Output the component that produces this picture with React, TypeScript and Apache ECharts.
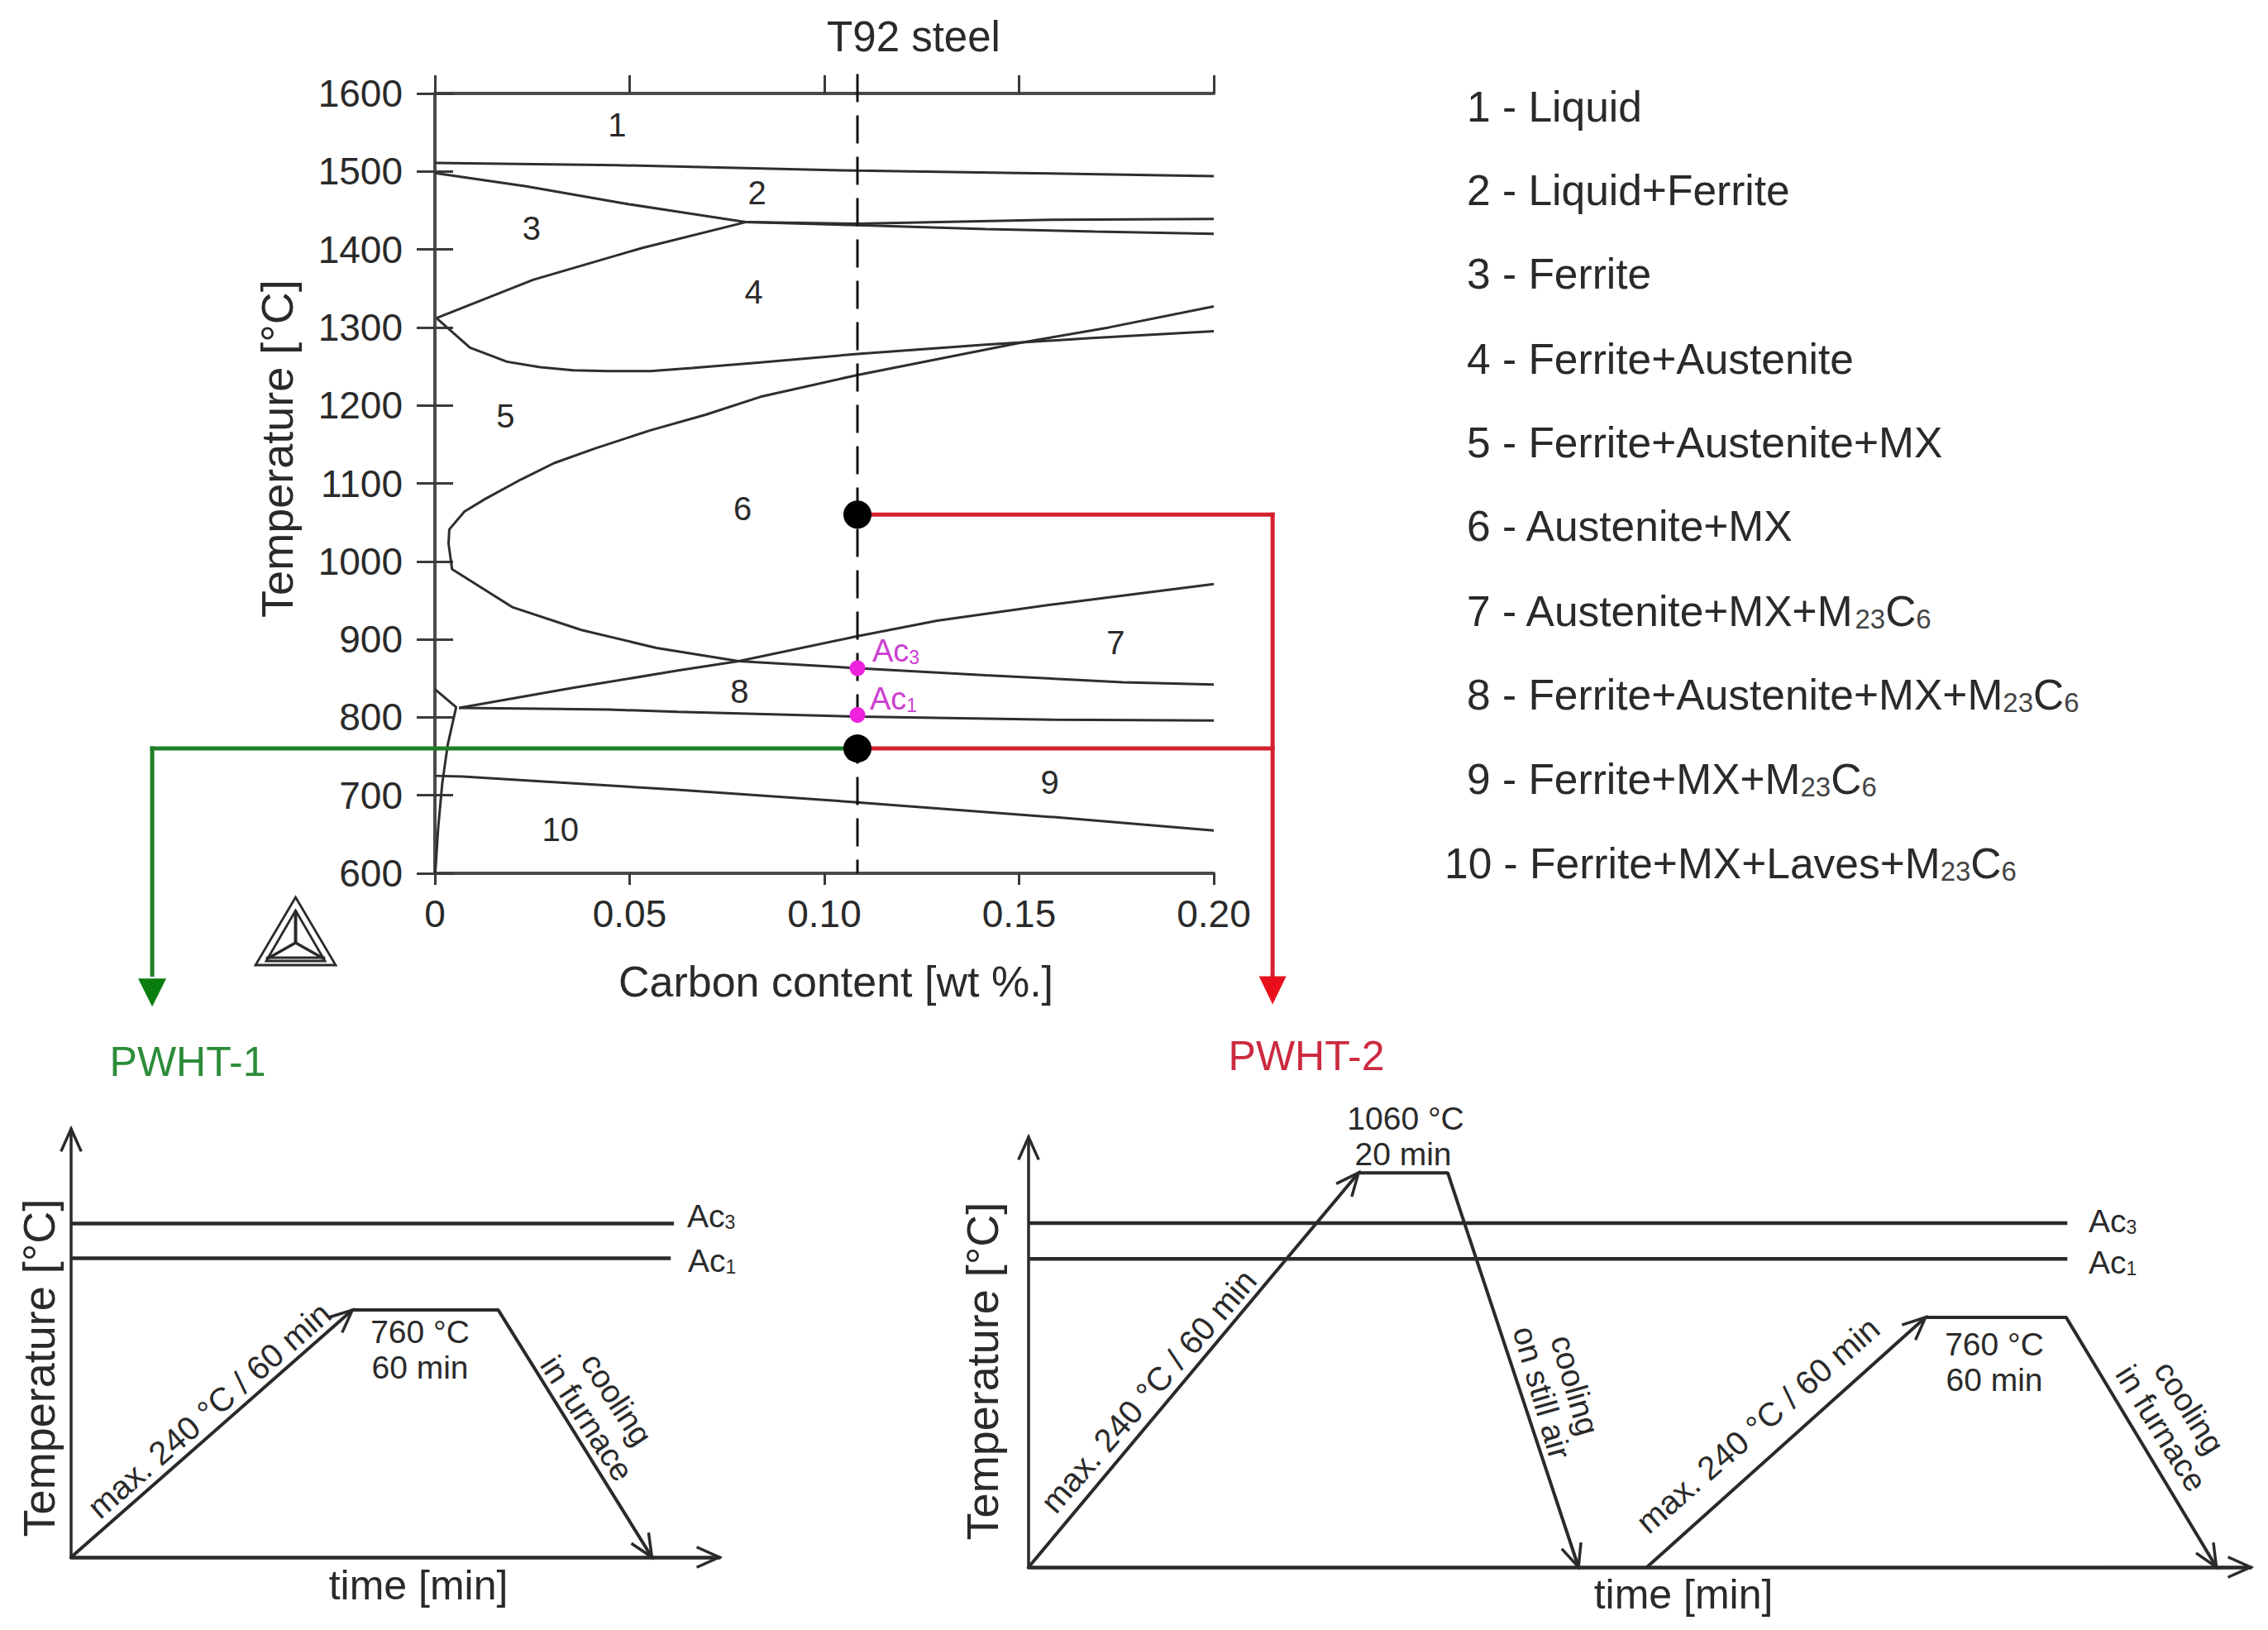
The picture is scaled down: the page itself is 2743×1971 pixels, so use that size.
import React, { useEffect, useRef } from "react";
import * as echarts from "echarts";

const FONT = '"Liberation Sans", Arial, sans-serif';
const INK = "#2a2a2a";

// --- main phase diagram: boundaries as [wt% C, °C]
const liquidus = [[0, 1511], [0.0468, 1508], [0.1085, 1501], [0.15, 1498], [0.2, 1494]];
const solidusLow = [[0, 1498], [0.0234, 1481], [0.0498, 1458], [0.0798, 1435]];
const ferriteLimit = [[0.0004, 1312], [0.0252, 1361], [0.0533, 1402], [0.0798, 1435]];
const peritecticUpper = [[0.0798, 1435], [0.1085, 1433], [0.159, 1438], [0.2, 1439]];
const peritecticLower = [[0.0798, 1435], [0.1085, 1431], [0.1414, 1426], [0.1695, 1423], [0.2, 1420]];
const mxSolvusUpper = [[0.0004, 1312], [0.009, 1274], [0.0185, 1256], [0.027, 1249], [0.0355, 1245], [0.0447, 1244], [0.0553, 1244], [0.066, 1248], [0.0836, 1255], [0.1085, 1266], [0.1414, 1278], [0.1678, 1286], [0.2, 1295]];
const austeniteNose = [[0.2, 1327], [0.1731, 1300], [0.15, 1280], [0.1085, 1239], [0.0836, 1211], [0.0695, 1188], [0.0553, 1168], [0.0412, 1145], [0.0306, 1126], [0.0221, 1105], [0.0129, 1080], [0.0076, 1064], [0.0037, 1041], [0.0035, 1023], [0.0044, 990], [0.02, 941], [0.0376, 912], [0.0569, 889], [0.078, 872], [0.1085, 863], [0.1414, 854], [0.1766, 845], [0.2, 842]];
const m23c6Solvus = [[0.0062, 812], [0.0357, 838], [0.0624, 860], [0.078, 872], [0.1085, 904], [0.129, 924], [0.159, 945], [0.2, 971]];
const eutectoid = [[0.0062, 812], [0.027, 811], [0.0447, 810], [0.0624, 807], [0.1085, 801], [0.159, 797], [0.2, 796]];
const ferriteSolvus = [[0, 836], [0.00545, 813], [0.0033, 765], [0.0019, 716], [0.00085, 659], [0.0001, 601]];
const lavesSolvus = [[0.0001, 725], [0.0072, 724], [0.027, 718], [0.0624, 707], [0.1085, 691], [0.159, 672], [0.2, 655]];
const boundaries = [liquidus, solidusLow, ferriteLimit, peritecticUpper, peritecticLower, mxSolvusUpper, austeniteNose, m23c6Solvus, eutectoid, ferriteSolvus, lavesSolvus];

const steelCarbon = 0.1085;
const pwht1Temp = 760;
const pwht2Temp = 1060;
const ac3 = 863;
const ac1 = 803;
const redX = 0.2151;
const greenX = -0.0726;
const arrowStart = 470;
const steelTop = 1625;
const steelBottom = 600;

// connector segments [x0, T0, x1, T1]
const steelLine = [[steelCarbon, steelTop, steelCarbon, steelBottom]];
const redSegments = [[steelCarbon, pwht2Temp, redX, pwht2Temp], [redX, pwht2Temp, redX, arrowStart], [steelCarbon, pwht1Temp, redX, pwht1Temp]];
const greenSegments = [[steelCarbon, pwht1Temp, greenX, pwht1Temp], [greenX, pwht1Temp, greenX, arrowStart]];
const redHead = [[redX, 450]];
const greenHead = [[greenX, 447]];

const regionNames = ["1", "2", "3", "4", "5", "6", "7", "8", "9", "10"];
const regionCarbon = [0.0468, 0.0827, 0.0248, 0.0819, 0.0181, 0.079, 0.1748, 0.0782, 0.1579, 0.0322];
const regionTemp = [1560, 1473, 1427, 1345, 1186, 1068, 896, 833, 717, 656];

const legendLabels = ["Liquid", "Liquid+Ferrite", "Ferrite", "Ferrite+Austenite", "Ferrite+Austenite+MX", "Austenite+MX", "Austenite+MX+M23C6", "Ferrite+Austenite+MX+M23C6", "Ferrite+MX+M23C6", "Ferrite+MX+Laves+M23C6"];

// --- schematic cycles (arbitrary 0-100 axes)
const cycle1 = [[0, 0], [43.4, 57.7], [65.9, 57.7], [89.6, 0]];
const cycle1Ac3 = [[0, 77.9], [93, 77.9]];
const cycle1Ac1 = [[0, 69.8], [92.5, 69.8]];
const cycle2a = [[0, 0], [27, 91.7], [34.3, 91.7], [45, 0]];
const cycle2b = [[50.6, 0], [73.4, 58.1], [84.9, 58.1], [97.2, 0]];
const cycle2Ac3 = [[0, 80], [85, 80]];
const cycle2Ac1 = [[0, 71.7], [85, 71.7]];

const chevrons1 = [[0, 0, 0, 100], [0, 0, 100, 0], [0, 0, 43.4, 57.7], [65.9, 57.7, 89.6, 0]];
const chevrons2 = [[0, 0, 0, 100], [0, 0, 100, 0], [0, 0, 27, 91.7], [34.3, 91.7, 45, 0], [50.6, 0, 73.4, 58.1], [84.9, 58.1, 97.2, 0]];

function richLegend(s: string) {
  return s.replace("M23C6", "M}{s|23}{t|C}{s|6}{t|");
}

function txt(text: string, x: number, y: number, size: number, extra: any = {}, rotationDeg = 0) {
  return {
    type: "text",
    x,
    y,
    rotation: (rotationDeg * Math.PI) / 180,
    silent: true,
    style: { text, fontFamily: FONT, fontSize: size, fill: INK, align: "center", verticalAlign: "middle", ...extra },
  };
}

function subText(main: string, sub: string, x: number, y: number, size: number, subSize: number, fill: string) {
  return {
    type: "text",
    x,
    y,
    silent: true,
    style: {
      text: `{a|${main}}{b|${sub}}`,
      align: "left",
      verticalAlign: "middle",
      rich: {
        a: { fontFamily: FONT, fontSize: size, fill, color: fill, lineHeight: size + 4, verticalAlign: "bottom" },
        b: { fontFamily: FONT, fontSize: subSize, fill, color: fill, lineHeight: size + 4, verticalAlign: "bottom" },
      },
    },
  };
}

function chevronSeries(data: number[][], xAxisIndex: number, yAxisIndex: number) {
  return {
    type: "custom",
    xAxisIndex,
    yAxisIndex,
    silent: true,
    encode: { x: [0, 2], y: [1, 3] },
    data,
    z: 6,
    renderItem: (_p: any, api: any) => {
      const a = api.coord([api.value(0), api.value(1)]);
      const b = api.coord([api.value(2), api.value(3)]);
      const ang = Math.atan2(b[1] - a[1], b[0] - a[0]);
      const L = 30;
      const w = 0.42;
      return {
        type: "polyline",
        shape: {
          points: [
            [b[0] - L * Math.cos(ang - w), b[1] - L * Math.sin(ang - w)],
            [b[0], b[1]],
            [b[0] - L * Math.cos(ang + w), b[1] - L * Math.sin(ang + w)],
          ],
        },
        style: { stroke: INK, fill: "none", lineWidth: 3.5 },
      };
    },
  };
}

// unclipped straight segments, placed through the axes
function segmentSeries(data: number[][], color: string, width: number, dash?: number[]) {
  return {
    type: "custom",
    xAxisIndex: 0,
    yAxisIndex: 0,
    silent: true,
    encode: { x: [0, 2], y: [1, 3] },
    data,
    z: 4,
    renderItem: (_p: any, api: any) => {
      const a = api.coord([api.value(0), api.value(1)]);
      const b = api.coord([api.value(2), api.value(3)]);
      return {
        type: "line",
        shape: { x1: a[0], y1: a[1], x2: b[0], y2: b[1] },
        style: { stroke: color, lineWidth: width, lineDash: dash, lineCap: dash ? "butt" : "square" },
      };
    },
  };
}

function thinLine(data: number[][], xAxisIndex: number, yAxisIndex: number, width: number) {
  return {
    type: "line",
    xAxisIndex,
    yAxisIndex,
    data,
    showSymbol: false,
    symbol: "none",
    silent: true,
    lineStyle: { color: INK, width },
    z: 3,
  };
}

function logo() {
  const ax = 357.5, ay = 1085, lx = 309, rx = 406, by = 1167, cx = 357.5, cy = 1140;
  const tri = [[ax, ay + 16], [lx + 13, by - 5], [rx - 13, by - 5]];
  const st = { stroke: "#2a2a2a", fill: "none", lineWidth: 2.8 };
  return {
    type: "group",
    silent: true,
    children: [
      { type: "polygon", shape: { points: [[ax, ay], [lx, by], [rx, by]] }, style: st },
      { type: "polygon", shape: { points: tri }, style: st },
      { type: "line", shape: { x1: ax, y1: ay + 16, x2: cx, y2: cy }, style: { ...st, lineWidth: 4 } },
      { type: "line", shape: { x1: 322, y1: 1160, x2: cx, y2: cy }, style: { ...st, lineWidth: 3.5 } },
      { type: "line", shape: { x1: 393, y1: 1160, x2: cx, y2: cy }, style: { ...st, lineWidth: 3.5 } },
      { type: "line", shape: { x1: 322, y1: 1158, x2: 393, y2: 1158 }, style: st },
    ],
  };
}

function buildOption() {
  const legendTexts = legendLabels.map((l, i) => {
    const ys = [127, 228, 329, 431.5, 532.5, 634, 736.5, 838, 939.5, 1041.5];
    const body = `${regionNames[i]} - ${richLegend(l)}`;
    return {
      type: "text",
      x: i === 9 ? 1747 : 1774,
      y: ys[i],
      silent: true,
      style: {
        text: `{t|${body}}`,
        align: "left",
        verticalAlign: "middle",
        rich: {
          t: { fontFamily: FONT, fontSize: 51.5, fill: INK, color: INK, lineHeight: 56, verticalAlign: "bottom" },
          s: { fontFamily: FONT, fontSize: 33, fill: "#444", color: "#444", lineHeight: 56, verticalAlign: "bottom" },
        },
      },
    };
  });

  const axisLine = { lineStyle: { color: "#4a4a4a", width: 4 } };
  const tickLong = { length: 22, lineStyle: { color: "#3a3a3a", width: 3 } };
  const schematicX = (gridIndex: number, gap: number, pad: number) => ({
    type: "value", gridIndex, min: 0, max: 100,
    splitLine: { show: false }, axisTick: { show: false }, axisLabel: { show: false },
    axisLine: { lineStyle: { color: INK, width: 4.5 }, onZero: false },
    name: "time [min]", nameLocation: "middle", nameGap: gap,
    nameTextStyle: { fontFamily: FONT, fontSize: 50, color: INK, padding: [0, 0, 0, pad] },
  });
  const schematicY = (gridIndex: number, gap: number, pad: number) => ({
    type: "value", gridIndex, min: 0, max: 100,
    splitLine: { show: false }, axisTick: { show: false }, axisLabel: { show: false },
    axisLine: { lineStyle: { color: INK, width: 3.5 }, onZero: false },
    name: "Temperature [°C]", nameLocation: "middle", nameGap: gap, nameRotate: 90,
    nameTextStyle: { fontFamily: FONT, fontSize: 54, color: INK, padding: [0, pad, 0, 0] },
  });

  return {
    animation: false,
    backgroundColor: "#fff",
    title: {
      text: "T92 steel", left: 1100, top: 14, textAlign: "center",
      textStyle: { fontFamily: FONT, fontSize: 51, fontWeight: "normal", color: INK },
    },
    grid: [
      { left: 526, top: 113, width: 942, height: 943 },
      { left: 86, top: 1365, width: 784, height: 518 },
      { left: 1244, top: 1375, width: 1478, height: 520 },
    ],
    xAxis: [
      {
        type: "value", gridIndex: 0, min: 0, max: 0.2, interval: 0.05, position: "bottom",
        splitLine: { show: false }, axisLine, axisTick: { length: 14, lineStyle: { color: "#3a3a3a", width: 3 } },
        axisLabel: {
          margin: 26, fontFamily: FONT, fontSize: 46, color: INK, showMinLabel: true, showMaxLabel: true,
          formatter: (v: number) => (v === 0 ? "0" : v.toFixed(2)),
        },
        name: "Carbon content [wt %.]", nameLocation: "middle", nameGap: 105,
        nameTextStyle: { fontFamily: FONT, fontSize: 52, color: INK, padding: [0, 0, 0, 28] },
      },
      {
        type: "value", gridIndex: 0, min: 0, max: 0.2, interval: 0.05, position: "top",
        splitLine: { show: false }, axisLine, axisTick: tickLong, axisLabel: { show: false },
      },
      schematicX(1, 9, 56),
      schematicX(2, 8, 106),
    ],
    yAxis: [
      {
        type: "value", gridIndex: 0, min: 600, max: 1600, interval: 100, position: "left",
        splitLine: { show: false }, axisLine, axisTick: tickLong,
        axisLabel: { margin: 39, fontFamily: FONT, fontSize: 46, color: INK, formatter: (v: number) => String(v) },
        name: "Temperature [°C]", nameLocation: "middle", nameGap: 164, nameRotate: 90,
        nameTextStyle: { fontFamily: FONT, fontSize: 54, color: INK, padding: [0, 0, 0, 84] },
      },
      {
        type: "value", gridIndex: 0, min: 600, max: 1600, interval: 100, position: "right",
        splitLine: { show: false }, axisLine, axisTick: tickLong, axisLabel: { show: false },
      },
      schematicY(1, 12, 60),
      schematicY(2, 29, 46),
    ],
    series: [
      ...boundaries.map((b) => ({
        type: "line", xAxisIndex: 0, yAxisIndex: 0, data: b, showSymbol: false, symbol: "none", silent: true,
        lineStyle: { color: "#2e2e2e", width: 3 }, z: 3,
      })),
      segmentSeries(steelLine, "#111", 3, [34, 16]),
      segmentSeries(redSegments, "#d5202f", 5),
      segmentSeries(greenSegments, "#1f7f27", 5),
      {
        type: "scatter", xAxisIndex: 0, yAxisIndex: 0, clip: false, silent: true, symbol: "triangle", symbolRotate: 180,
        symbolSize: [33, 34], data: redHead, itemStyle: { color: "#e8101c", opacity: 1 }, z: 5,
      },
      {
        type: "scatter", xAxisIndex: 0, yAxisIndex: 0, clip: false, silent: true, symbol: "triangle", symbolRotate: 180,
        symbolSize: [34, 34], data: greenHead, itemStyle: { color: "#0a7d10", opacity: 1 }, z: 5,
      },
      {
        type: "scatter", xAxisIndex: 0, yAxisIndex: 0, silent: true, symbolSize: 34,
        data: [[steelCarbon, pwht2Temp], [steelCarbon, pwht1Temp]], itemStyle: { color: "#000", opacity: 1 }, z: 6,
      },
      {
        type: "scatter", xAxisIndex: 0, yAxisIndex: 0, silent: true, symbolSize: 19,
        data: [[steelCarbon, ac3], [steelCarbon, ac1]], itemStyle: { color: "#ee22dd", opacity: 1 }, z: 6,
      },
      {
        type: "scatter", xAxisIndex: 0, yAxisIndex: 0, silent: true, symbolSize: 1,
        data: regionNames.map((n, i) => ({ name: n, value: [regionCarbon[i], regionTemp[i]] })),
        itemStyle: { color: "transparent", opacity: 1 }, z: 6,
        label: {
          show: true, position: "inside", formatter: (p: any) => p.name,
          fontFamily: FONT, fontSize: 40, color: INK, opacity: 1,
        },
      },
      thinLine(cycle1, 2, 2, 4),
      thinLine(cycle1Ac3, 2, 2, 4.5),
      thinLine(cycle1Ac1, 2, 2, 4.5),
      chevronSeries(chevrons1, 2, 2),
      thinLine(cycle2a, 3, 3, 4),
      thinLine(cycle2b, 3, 3, 4),
      thinLine(cycle2Ac3, 3, 3, 4.5),
      thinLine(cycle2Ac1, 3, 3, 4.5),
      chevronSeries(chevrons2, 3, 3),
    ],
    graphic: [
      {
        type: "group",
        silent: true,
        children: [
          ...legendTexts,
          subText("Ac", "3", 1055, 785, 38, 23, "#cc3fd0"),
          subText("Ac", "1", 1052, 843, 38, 23, "#cc3fd0"),
          logo(),
          txt("PWHT-1", 227, 1284, 50, { fill: "#2c8c38" }),
          txt("PWHT-2", 1580, 1277, 50, { fill: "#cc2a40" }),
          subText("Ac", "3", 831, 1468, 39, 23, INK),
          subText("Ac", "1", 832, 1522, 39, 23, INK),
          subText("Ac", "3", 2526, 1474, 39, 23, INK),
          subText("Ac", "1", 2526, 1524, 39, 23, INK),
          txt("760 °C", 508, 1610, 39),
          txt("60 min", 508, 1653, 39),
          txt("max. 240 °C / 60 min", 253, 1705, 40, {}, 41),
          txt("cooling", 746, 1692, 39, {}, -57),
          txt("in furnace", 710, 1715, 39, {}, -57),
          txt("1060 °C", 1700, 1352, 39),
          txt("20 min", 1697, 1395, 39),
          txt("max. 240 °C / 60 min", 1389, 1682, 40, {}, 49),
          txt("cooling", 1905, 1675, 39, {}, -74),
          txt("on still air", 1865, 1684, 39, {}, -74),
          txt("max. 240 °C / 60 min", 2126, 1723, 40, {}, 41),
          txt("760 °C", 2412, 1625, 39),
          txt("60 min", 2412, 1668, 39),
          txt("cooling", 2648, 1702, 39, {}, -58),
          txt("in furnace", 2614, 1727, 39, {}, -58),
        ],
      },
    ],
  };
}

export default function App() {
  const ref = useRef<HTMLDivElement>(null);
  useEffect(() => {
    const chart = echarts.init(ref.current as HTMLDivElement, undefined, { renderer: "svg" });
    chart.setOption(buildOption() as any);
    return () => chart.dispose();
  }, []);
  return <div ref={ref} style={{ position: "absolute", left: 0, top: 0, width: 2743, height: 1971, background: "#fff" }} />;
}
